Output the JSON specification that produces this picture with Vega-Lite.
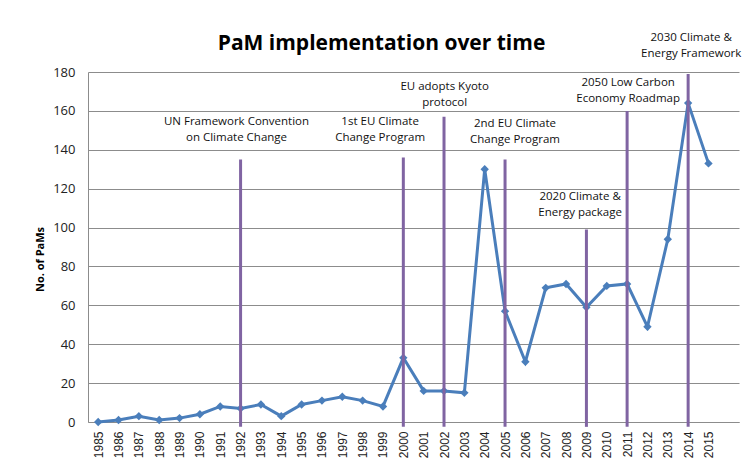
{
  "$schema": "https://vega.github.io/schema/vega-lite/v6.json",
  "autosize": {"type": "none"},
  "width": 651,
  "height": 350,
  "padding": {"left": 88, "top": 72, "right": 5, "bottom": 46},
  "background": "white",
  "title": {
    "text": "PaM implementation over time",
    "font": "Open Sans",
    "fontSize": 21,
    "fontWeight": "bold",
    "color": "#000000",
    "anchor": "middle",
    "frame": "group",
    "baseline": "alphabetic",
    "offset": 21,
    "dx": -32,
    "dy": 60
  },
  "config": {
    "view": {"stroke": null},
    "axis": {"gridColor": "#8c8c8c", "domainColor": "#8c8c8c"}
  },
  "datasets": {
    "pams": [
      {"year": 1985, "count": 0},
      {"year": 1986, "count": 1},
      {"year": 1987, "count": 3},
      {"year": 1988, "count": 1},
      {"year": 1989, "count": 2},
      {"year": 1990, "count": 4},
      {"year": 1991, "count": 8},
      {"year": 1992, "count": 7},
      {"year": 1993, "count": 9},
      {"year": 1994, "count": 3},
      {"year": 1995, "count": 9},
      {"year": 1996, "count": 11},
      {"year": 1997, "count": 13},
      {"year": 1998, "count": 11},
      {"year": 1999, "count": 8},
      {"year": 2000, "count": 33},
      {"year": 2001, "count": 16},
      {"year": 2002, "count": 16},
      {"year": 2003, "count": 15},
      {"year": 2004, "count": 130},
      {"year": 2005, "count": 57},
      {"year": 2006, "count": 31},
      {"year": 2007, "count": 69},
      {"year": 2008, "count": 71},
      {"year": 2009, "count": 59},
      {"year": 2010, "count": 70},
      {"year": 2011, "count": 71},
      {"year": 2012, "count": 49},
      {"year": 2013, "count": 94},
      {"year": 2014, "count": 164},
      {"year": 2015, "count": 133}
    ],
    "events": [
      {"year": 1992, "count": -2.5, "top": 135},
      {"year": 2000, "count": -2.5, "top": 136},
      {"year": 2002, "count": -2.5, "top": 157},
      {"year": 2005, "count": -2.5, "top": 135},
      {"year": 2009, "count": -2.5, "top": 99},
      {"year": 2011, "count": -2.5, "top": 160},
      {"year": 2014, "count": -2.5, "top": 179}
    ],
    "notes": [
      {"year": 1991.8, "count": 154.3, "label": "UN Framework Convention\non Climate Change"},
      {"year": 1998.86, "count": 154.3, "label": "1st EU Climate\nChange Program"},
      {"year": 2002.03, "count": 172.3, "label": "EU adopts Kyoto\nprotocol"},
      {"year": 2005.49, "count": 153.3, "label": "2nd EU Climate\nChange Program"},
      {"year": 2008.69, "count": 115.7, "label": "2020 Climate &\nEnergy package"},
      {"year": 2011.05, "count": 174.4, "label": "2050 Low Carbon\nEconomy Roadmap"},
      {"year": 2014.15, "count": 197.5, "label": "2030 Climate &\nEnergy Framework"}
    ]
  },
  "encoding": {
    "x": {
      "field": "year", "type": "quantitative",
      "scale": {"domain": [1984.5, 2016.5], "nice": false, "zero": false},
      "axis": {
        "values": [1985,1986,1987,1988,1989,1990,1991,1992,1993,1994,1995,1996,1997,1998,1999,2000,2001,2002,2003,2004,2005,2006,2007,2008,2009,2010,2011,2012,2013,2014,2015],
        "format": "d",
        "labelAngle": -90,
        "labelAlign": "right",
        "labelBaseline": "middle",
        "labelFont": "Liberation Sans",
        "labelFontSize": 12,
        "labelColor": "#222222",
        "labelPadding": 9,
        "labelOverlap": false,
        "labelFlush": false,
        "labelBound": false,
        "ticks": false,
        "grid": false,
        "domain": true,
        "domainColor": "#8c8c8c",
        "title": null
      }
    },
    "y": {
      "field": "count", "type": "quantitative",
      "scale": {"domain": [0, 180], "nice": false},
      "axis": {
        "values": [0,20,40,60,80,100,120,140,160,180],
        "grid": true,
        "gridColor": "#8c8c8c",
        "gridWidth": 1,
        "ticks": false,
        "domain": true,
        "domainColor": "#8c8c8c",
        "labelOverlap": false,
        "labelFlush": false,
        "labelBound": false,
        "labelFont": "Open Sans",
        "labelFontSize": 13,
        "labelColor": "#222222",
        "labelPadding": 13,
        "title": "No. of PaMs",
        "titleFont": "Open Sans",
        "titleFontSize": 11,
        "titleFontWeight": "bold",
        "titleColor": "#000000",
        "titleAngle": -90,
        "titleX": -48,
        "titleY": 187,
        "titleAlign": "center",
        "titleBaseline": "middle"
      }
    }
  },
  "layer": [
    {
      "data": {"name": "pams"},
      "mark": {"type": "line", "color": "#4a7ebb", "strokeWidth": 3, "clip": false,
               "point": {"shape": "diamond", "size": 70, "color": "#4a7ebb", "filled": true}}
    },
    {
      "data": {"name": "events"},
      "mark": {"type": "rule", "color": "#8064a2", "strokeWidth": 3, "clip": false},
      "encoding": {
        "y2": {"field": "top"}
      }
    },
    {
      "data": {"name": "notes"},
      "mark": {"type": "text", "font": "Open Sans", "fontSize": 11.5, "color": "#111111",
               "align": "center", "baseline": "middle", "lineBreak": "\n", "lineHeight": 16, "clip": false},
      "encoding": {
        "text": {"field": "label", "type": "nominal"}
      }
    }
  ]
}
